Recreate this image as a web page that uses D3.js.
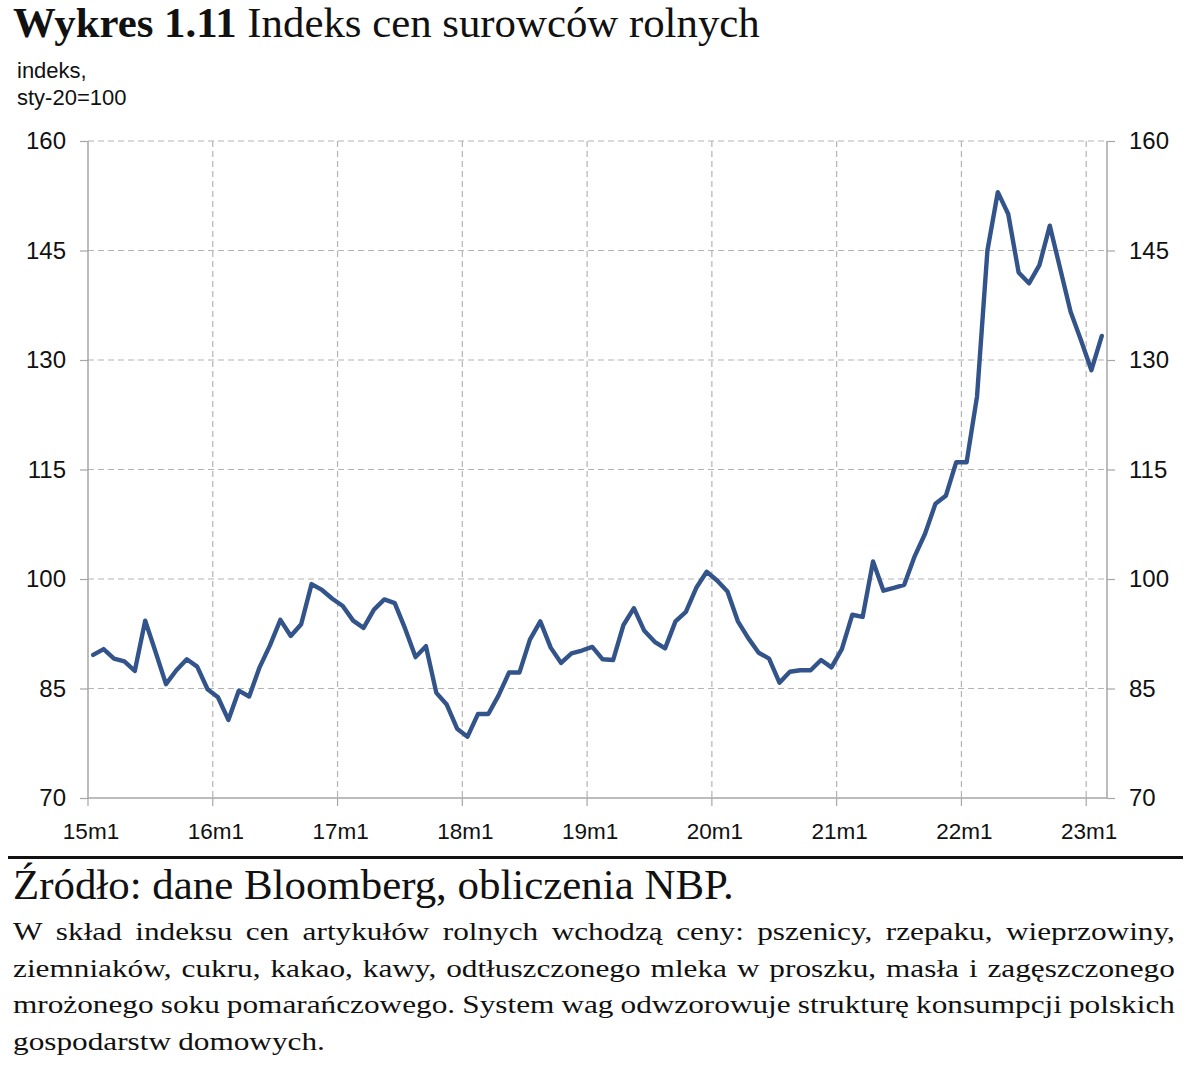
<!DOCTYPE html>
<html><head><meta charset="utf-8">
<script src="https://cdn.jsdelivr.net/npm/d3@7"></script>
<style>body{margin:0;background:#fff}svg{display:block}</style>
</head><body>
<svg id="c" width="1200" height="1075"></svg>
<script>
const years = ["15","16","17","18","19","20","21","22","23"];
const tickLabels = ["15m1","16m1","17m1","18m1","19m1","20m1","21m1","22m1","23m1"];
const yTicks = [70,85,100,115,130,145,160];
const values = [
89.6,90.4,89.1,88.7,87.4,94.3,90.0,85.6,87.5,89.0,88.0,84.9,
83.8,80.7,84.7,83.9,87.9,90.9,94.4,92.2,93.8,99.3,98.5,97.3,
96.3,94.3,93.3,95.8,97.2,96.7,93.2,89.3,90.8,84.4,82.8,79.5,
78.4,81.5,81.5,84.1,87.2,87.2,91.7,94.2,90.6,88.5,89.8,90.2,
90.7,89.0,88.9,93.7,96.0,92.9,91.4,90.5,94.2,95.5,98.8,101.0,
99.8,98.3,94.2,91.9,89.9,89.1,85.8,87.3,87.5,87.5,88.9,87.9,
90.4,95.1,94.8,102.4,98.4,98.8,99.2,103.1,106.2,110.3,111.4,116.0,
116.0,125.0,145.0,153.0,150.0,142.0,140.5,143.0,148.4,142.5,136.6,132.7,
128.6,133.3];
const categories = [];
years.forEach(y => { for (let m = 1; m <= 12; m++) categories.push(y + "m" + m); });
categories.length = values.length;

const titleBold = "Wykres 1.11";
const titleRest = " Indeks cen surowców rolnych";
const unitLines = ["indeks,", "sty-20=100"];
const sourceText = "Źródło: dane Bloomberg, obliczenia NBP.";
const noteLines = [
 "W skład indeksu cen artykułów rolnych wchodzą ceny: pszenicy, rzepaku, wieprzowiny,",
 "ziemniaków, cukru, kakao, kawy, odtłuszczonego mleka w proszku, masła i zagęszczonego",
 "mrożonego soku pomarańczowego. System wag odwzorowuje strukturę konsumpcji polskich",
 "gospodarstw domowych."];

const svg = d3.select("#c");
const L = 88, R = 1107, T = 141, B = 798;
const x = d3.scaleBand().domain(categories).range([L, R]).padding(0);
const y = d3.scaleLinear().domain([70, 160]).range([B, T]);
const bw = x.bandwidth();
const serif = "'Liberation Serif','DejaVu Serif',serif";
const sans = "'Liberation Sans',Arial,sans-serif";
const grid = "#b4b4b4", axisC = "#a6a6a6";

// Title
const title = svg.append("text").attr("x", 13).attr("y", 37)
  .attr("font-family", serif).attr("font-size", 40).attr("fill", "#111");
title.append("tspan").attr("font-weight", "bold").text(titleBold);
title.append("tspan").text(titleRest);
(function fit(){ const w = title.node().getComputedTextLength(); title.attr("font-size", 40 * 747 / w); })();

unitLines.forEach((t, i) => svg.append("text").attr("x", 17).attr("y", 78 + i * 27)
  .attr("font-family", sans).attr("font-size", 22).attr("fill", "#111").text(t));

// horizontal grid
svg.append("g").selectAll("line").data(yTicks.filter(v => v > 70)).join("line")
  .attr("x1", L).attr("x2", R).attr("y1", d => y(d)).attr("y2", d => y(d))
  .attr("stroke", grid).attr("stroke-width", 1.2).attr("stroke-dasharray", "6,4");
// vertical grid
const tickCats = categories.filter(c => tickLabels.includes(c));
svg.append("g").selectAll("line").data(tickCats.slice(1)).join("line")
  .attr("x1", d => x(d)).attr("x2", d => x(d)).attr("y1", T).attr("y2", B)
  .attr("stroke", grid).attr("stroke-width", 1.2).attr("stroke-dasharray", "6,4");

// axes
const yAxisL = d3.axisLeft(y).tickValues(yTicks).tickSize(8).tickPadding(14);
const yAxisR = d3.axisRight(y).tickValues(yTicks).tickSize(8).tickPadding(14);
const gL = svg.append("g").attr("transform", `translate(${L},0)`).call(yAxisL);
const gR = svg.append("g").attr("transform", `translate(${R},0)`).call(yAxisR);
const xAxis = d3.axisBottom(x).tickValues(tickCats).tickSize(8).tickPadding(17)
  .tickFormat(d => d);
const gX = svg.append("g").attr("transform", `translate(0,${B})`).call(xAxis);
gX.selectAll(".tick").attr("transform", d => `translate(${x(d)},0)`);
gX.selectAll(".tick text").attr("dx", 3);
[gL, gR, gX].forEach(g => {
  g.select(".domain").attr("stroke", axisC).attr("stroke-width", 1.5);
  g.selectAll(".tick line").attr("stroke", axisC).attr("stroke-width", 1.2);
  g.selectAll(".tick text").attr("font-family", sans).attr("font-size", 24).attr("fill", "#111");
});
gX.selectAll(".tick text").attr("font-size", 22.5);
gL.select(".domain").attr("d", `M0,${T}V${B}`);
gR.select(".domain").attr("d", `M0,${T}V${B}`);
gX.select(".domain").attr("d", `M${L},0H${R}`);

// line
const line = d3.line().x((d, i) => x(categories[i]) + bw / 2).y(d => y(d));
svg.append("path").datum(values).attr("d", line).attr("fill", "none")
  .attr("stroke", "#33548a").attr("stroke-width", 4.4).attr("stroke-linejoin", "round").attr("stroke-linecap", "round");

// rule
svg.append("rect").attr("x", 8).attr("y", 856).attr("width", 1175).attr("height", 3).attr("fill", "#111");

// source
const src = svg.append("text").attr("x", 13).attr("y", 899).attr("font-family", serif)
  .attr("font-size", 34).attr("fill", "#111").text(sourceText);
(function(){ const w = src.node().getComputedTextLength(); src.attr("font-size", 34 * 721 / w); })();

// justified note (words stretched horizontally to match the wider original face)
const noteL = 13, noteR = 1175, fs = 25, baseSpace = 7;
const measured = noteLines.map((ln, i) => {
  const yy = 940 + i * 36.5;
  const words = ln.split(" ");
  const ts = words.map(w => svg.append("text").attr("font-family", serif)
    .attr("font-size", fs).attr("fill", "#111").text(w));
  const widths = ts.map(t => t.node().getComputedTextLength());
  return {yy, ts, widths};
});
const sx = d3.min(measured.slice(0, 3), m =>
  (noteR - noteL - baseSpace * (m.widths.length - 1)) / d3.sum(m.widths));
measured.forEach((m, i) => {
  const sum = d3.sum(m.widths) * sx;
  const last = i === measured.length - 1;
  const space = last ? baseSpace : (noteR - noteL - sum) / (m.widths.length - 1);
  let cx = noteL;
  m.ts.forEach((t, k) => {
    t.attr("transform", `translate(${cx},${m.yy}) scale(${sx},1)`);
    cx += m.widths[k] * sx + space;
  });
});
</script>
</body></html>
